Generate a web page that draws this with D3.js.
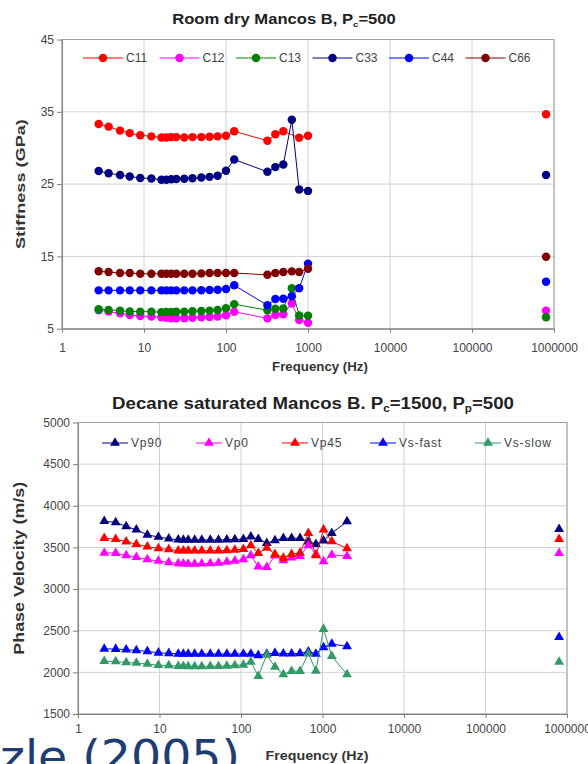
<!DOCTYPE html>
<html>
<head>
<meta charset="utf-8">
<script src="https://cdn.jsdelivr.net/npm/d3@7"></script>
<style>
  body { margin: 0; background: #fff; }
  svg { display: block; }
  text { font-family: "Liberation Sans", Arial, sans-serif; }
</style>
</head>
<body>
<svg id="chart" width="588" height="764"></svg>
<script>
// ---- Room dry Mancos B, Pc = 500: stiffness vs frequency ----
// last entry of each list is the ultrasonic measurement
const stiffFreq = [2.8, 3.7, 5.1, 6.7, 9.0, 12.3, 16.3, 18.7, 21.5, 24.8, 31, 39, 50, 63, 79, 100, 126,
                   320, 400, 500, 635, 780, 1000, 800000];
const c11 = [33.3, 32.95, 32.4, 32.05, 31.75, 31.6, 31.45, 31.45, 31.5, 31.5, 31.45, 31.5, 31.5, 31.55, 31.6, 31.7, 32.3,
             31.0, 31.9, 32.3, null, 31.4, 31.7, 34.65];
const c12 = [7.55, 7.36, 7.13, 6.9, 6.75, 6.67, 6.57, 6.5, 6.45, 6.43, 6.45, 6.5, 6.57, 6.62, 6.7, 6.85, 7.35,
             6.43, 6.9, 7.0, 8.5, 6.2, 5.83, 7.5];
const c13 = [7.7, 7.6, 7.5, 7.38, 7.36, 7.36, 7.27, 7.3, 7.3, 7.36, 7.36, 7.41, 7.45, 7.5, 7.59, 7.82, 8.4,
             7.55, 7.75, 7.8, 10.6, 6.84, 6.8, 6.58];
const c33 = [26.8, 26.5, 26.25, 26.05, 25.84, 25.78, 25.6, 25.6, 25.68, 25.7, 25.75, 25.8, 25.9, 26.0, 26.15, 26.85, 28.4,
             26.7, 27.35, 27.7, 33.9, 24.25, 24.06, 26.26];
const c44 = [10.3, 10.3, 10.3, 10.3, 10.3, 10.3, 10.3, 10.3, 10.3, 10.3, 10.3, 10.3, 10.32, 10.35, 10.4, 10.5, 11.0,
             8.25, 9.1, 9.15, 9.5, 10.6, 14.0, 11.5];
const c66 = [12.95, 12.84, 12.7, 12.7, 12.6, 12.6, 12.6, 12.6, 12.6, 12.6, 12.6, 12.6, 12.65, 12.7, 12.7, 12.7, 12.7,
             12.45, 12.7, 12.84, 12.93, 12.84, 13.3, 14.96];
const stiffNames = ["C11", "C12", "C13", "C33", "C44", "C66"];
const stiffColors = ["#ff0000", "#ff00ff", "#008000", "#000080", "#0000ff", "#800000"];
const stiffTicks = [5, 15, 25, 35, 45];

// ---- Decane saturated Mancos B, Pc = 1500, Pp = 500: phase velocity vs frequency ----
const velFreq = [2.1, 2.9, 3.9, 5.2, 7.1, 9.7, 13, 17, 19.6, 22.5, 27, 33, 42, 53, 67, 84, 107, 132, 163, 207,
                 261, 331, 418, 530, 670, 830, 1030, 1300, 2000, 800000];
const vp90 = [3815, 3800, 3752, 3712, 3651, 3625, 3605, 3592, 3590, 3590, 3590, 3590, 3590, 3590, 3592, 3595, 3600, 3628, 3600, 3552,
              3583, 3611, 3611, 3611, 3570, 3540, 3580, 3672, 3811, 3720];
const vp0 = [3435, 3432, 3405, 3383, 3355, 3337, 3321, 3307, 3305, 3303, 3303, 3305, 3308, 3315, 3325, 3337, 3357, 3405, 3268, 3262,
             3400, 3345, 3378, 3395, 3525, 3420, 3331, 3411, 3395, 3431];
const vp45 = [3610, 3600, 3570, 3540, 3508, 3488, 3475, 3462, 3460, 3460, 3460, 3460, 3460, 3462, 3465, 3470, 3480, 3525, 3431, 3495,
              3420, 3375, 3420, 3435, 3670, 3405, 3712, 3571, 3488, 3600];
const vsFast = [2282, 2280, 2273, 2263, 2253, 2235, 2229, 2222, 2221, 2221, 2221, 2221, 2221, 2221, 2221, 2221, 2221, 2221, 2205, 2221,
                2232, 2225, 2225, 2228, 2249, 2222, 2300, 2341, 2312, 2422];
const vsSlow = [2135, 2130, 2118, 2112, 2100, 2085, 2082, 2075, 2073, 2072, 2072, 2072, 2073, 2075, 2078, 2083, 2090, 2125, 1955, 2209,
                2065, 1975, 2015, 2015, 2225, 2018, 2520, 2195, 1975, 2125];
const velNames = ["Vp90", "Vp0", "Vp45", "Vs-fast", "Vs-slow"];
const velColors = ["#000080", "#ff00ff", "#ff0000", "#0000ff", "#339966"];
const velTicks = [1500, 2000, 2500, 3000, 3500, 4000, 4500, 5000];

const freqTicks = [1, 10, 100, 1000, 10000, 100000, 1000000];

const svg = d3.select("#chart");

// Text label stretched horizontally to a given width (optionally rotated).
function fittedText(parent, o) {
  const g = parent.append("g");
  const t = g.append("text").attr("text-anchor", "middle")
    .style("font-size", o.size + "px").style("font-weight", o.weight || "bold")
    .attr("fill", o.fill || "#333")
    .style("font-family", o.family || null);
  let shift = 0;
  o.parts.forEach(p => {
    if (p.sub) {
      t.append("tspan").attr("dy", 3).style("font-size", Math.round(o.size * 0.6) + "px").text(p.sub);
      shift = -3;
    } else {
      t.append("tspan").attr("dy", shift).text(p.text);
      shift = 0;
    }
  });
  const w = t.node().getBBox().width;
  g.attr("transform", `translate(${o.x},${o.y})` + (o.rotate ? ` rotate(${o.rotate})` : "") +
    ` scale(${o.width / w},1)`);
  return g;
}

function drawPanel(cfg) {
  const g = svg.append("g");
  const x = d3.scaleLog().domain([1, 1e6]).range([cfg.left, cfg.right]);
  const y = d3.scaleLinear().domain([cfg.yTicks[0], cfg.yTicks[cfg.yTicks.length - 1]])
    .range([cfg.bottom, cfg.top]);

  // gridlines
  g.append("g").selectAll("line").data(cfg.yTicks).join("line")
    .attr("x1", cfg.left).attr("x2", cfg.right)
    .attr("y1", d => y(d)).attr("y2", d => y(d))
    .attr("stroke", "#d0d0d0");
  g.append("g").selectAll("line").data(freqTicks).join("line")
    .attr("x1", d => x(d)).attr("x2", d => x(d))
    .attr("y1", cfg.top).attr("y2", cfg.bottom)
    .attr("stroke", "#d0d0d0");

  // plot frame
  g.append("rect")
    .attr("x", cfg.left).attr("y", cfg.top)
    .attr("width", cfg.right - cfg.left).attr("height", cfg.bottom - cfg.top)
    .attr("fill", "none").attr("stroke", "#a0a0a0");

  // axes
  const xAxis = g.append("g").attr("transform", `translate(0,${cfg.bottom})`)
    .call(d3.axisBottom(x).tickValues(freqTicks).tickFormat(d3.format("d")).tickSize(4).tickSizeOuter(0));
  const yAxis = g.append("g").attr("transform", `translate(${cfg.left},0)`)
    .call(d3.axisLeft(y).tickValues(cfg.yTicks).tickFormat(d3.format("d")).tickSize(5).tickSizeOuter(0));
  [xAxis, yAxis].forEach(a => {
    a.select(".domain").attr("stroke", "#808080");
    a.selectAll(".tick line").attr("stroke", "#808080");
    a.selectAll(".tick text").attr("fill", "#444")
      .style("font-size", "12px").style("font-family", "'Liberation Sans', Arial, sans-serif");
  });
  xAxis.selectAll(".tick text").attr("dy", cfg.xLabelDy);
  yAxis.selectAll(".tick text").attr("x", -8);

  // series
  const line = d3.line().x(d => x(d.f)).y(d => y(d.v));
  cfg.series.forEach((vals, i) => {
    const pts = vals.map((v, k) => ({ f: cfg.freq[k], v })).filter(d => d.v != null);
    const sweep = pts.filter(d => d.f < 1e5);
    g.append("path").datum(sweep)
      .attr("d", line).attr("fill", "none")
      .attr("stroke", cfg.colors[i]).attr("stroke-width", 1);
    g.append("g").selectAll("path").data(pts).join("path")
      .attr("transform", d => `translate(${x(d.f)},${y(d.v)})`)
      .attr("d", cfg.marker)
      .attr("fill", cfg.colors[i]);
  });

  // legend
  cfg.names.forEach((name, i) => {
    const x0 = cfg.legendX[i];
    const lg = g.append("g");
    lg.append("line").attr("x1", x0).attr("x2", x0 + cfg.legendLine)
      .attr("y1", cfg.legendY).attr("y2", cfg.legendY)
      .attr("stroke", cfg.colors[i]).attr("stroke-width", 1);
    lg.append("path").attr("d", cfg.marker)
      .attr("transform", `translate(${x0 + cfg.legendLine / 2},${cfg.legendY})`)
      .attr("fill", cfg.colors[i]);
    lg.append("text").attr("x", x0 + cfg.legendLine + 3).attr("y", cfg.legendY + 4)
      .attr("fill", "#444").style("font-size", "12px")
      .style("letter-spacing", cfg.legendSpacing).text(name);
  });

  // axis titles
  fittedText(g, { x: cfg.xTitle.x, y: cfg.xTitle.y, size: cfg.xTitle.size, width: cfg.xTitle.w,
    parts: [{ text: "Frequency (Hz)" }] });
  fittedText(g, { x: cfg.yTitle.x, y: (cfg.top + cfg.bottom) / 2, rotate: -90, size: cfg.yTitle.size,
    width: cfg.yTitle.w, parts: [{ text: cfg.yTitle.text }] });

  // chart title
  fittedText(g, { x: cfg.title.x, y: cfg.title.y, size: cfg.title.size, width: cfg.title.w,
    fill: "#222", parts: cfg.title.parts });
}

const circle = d3.symbol(d3.symbolCircle, 56)();
const triangle = d3.symbol(d3.symbolTriangle, 42)();

drawPanel({
  left: 62, right: 554, top: 39.5, bottom: 328.7,
  freq: stiffFreq, series: [c11, c12, c13, c33, c44, c66],
  names: stiffNames, colors: stiffColors, yTicks: stiffTicks,
  marker: circle, xLabelDy: "1.37em",
  legendX: [83, 159.5, 236, 312.5, 389, 465.5], legendLine: 40, legendY: 58, legendSpacing: "0px",
  xTitle: { x: 320, y: 371, size: 13, w: 96 },
  yTitle: { x: 25, size: 13, w: 130, text: "Stiffness (GPa)" },
  title: { x: 284, y: 24, size: 14, w: 224,
    parts: [{ text: "Room dry Mancos B, P" }, { sub: "c" }, { text: "=500" }] }
});

drawPanel({
  left: 78, right: 567, top: 422.5, bottom: 714,
  freq: velFreq, series: [vp90, vp0, vp45, vsFast, vsSlow],
  names: velNames, colors: velColors, yTicks: velTicks,
  marker: triangle, xLabelDy: "1.0em",
  legendX: [102, 196, 282, 370, 475], legendLine: 26, legendY: 443, legendSpacing: "0.8px",
  xTitle: { x: 317, y: 760, size: 13, w: 103 },
  yTitle: { x: 23.5, size: 14, w: 173, text: "Phase Velocity (m/s)" },
  title: { x: 313, y: 409, size: 16, w: 402,
    parts: [{ text: "Decane saturated Mancos B. P" }, { sub: "c" }, { text: "=1500, P" }, { sub: "p" }, { text: "=500" }] }
});

// slide citation in the lower-left corner
const cite = svg.append("text").attr("x", 0).attr("y", 0)
  .style("font-family", "'DejaVu Sans', sans-serif").style("font-size", "44px")
  .attr("fill", "#1d3d73").text("zle (2005)");
const citeW = cite.node().getBBox().width;
cite.attr("transform", `translate(0,772) scale(${240 / citeW},1)`);
</script>
</body>
</html>
